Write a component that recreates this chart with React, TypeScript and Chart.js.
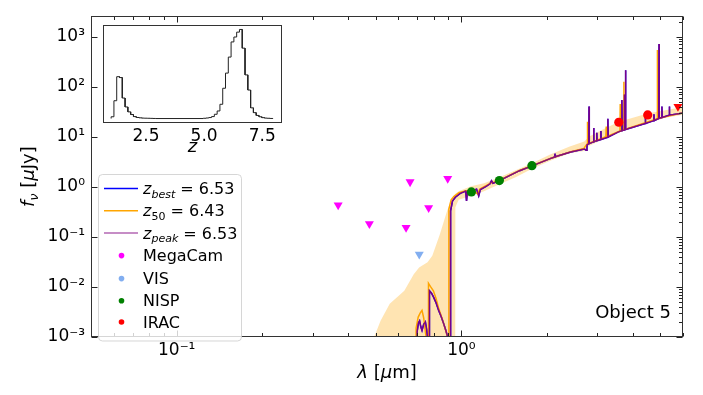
import React, { useEffect, useRef } from 'react';
import { Chart, registerables } from 'chart.js';

Chart.register(...registerables);

const FONT = "'DejaVu Sans', sans-serif";

// ---------------- photometry (lambda in micron, flux in microJy) ----------------
const megacamLambda = [0.369, 0.475, 0.639, 0.66, 0.767, 0.895];
const megacamFlux = [0.43, 0.183, 0.153, 1.25, 0.38, 1.46];
const visLambda = [0.711];
const visFlux = [0.045];
const nispLambda = [1.084, 1.359, 1.768];
const nispFlux = [0.79, 1.33, 2.65];
const iracLambda = [3.57, 4.51];
const iracFlux = [19.5, 27.3];
const iracLimitLambda = [5.76];
const iracLimitFlux = [39.9];

// ---------------- model spectra [lambda, f_nu] ----------------
const zBestSpectrum: [number, number][] = [
  [0.5, 1e-6], [0.697, 1e-6], [0.699, 1.3e-3], [0.706, 1.9e-3], [0.713, 2.1e-3], [0.72, 1.6e-3],
  [0.727, 1.35e-3], [0.737, 1.8e-3], [0.747, 2.0e-3], [0.755, 1.4e-3], [0.762, 8e-4], [0.77, 8e-4],
  [0.772, 8.4e-3], [0.785, 7.5e-3], [0.799, 6.2e-3], [0.815, 4.8e-3], [0.832, 3.4e-3], [0.85, 2.5e-3],
  [0.866, 1.85e-3], [0.88, 1.4e-3], [0.895, 1.0e-3], [0.9, 1e-6], [0.9155, 1e-6], [0.916, 0.33],
  [0.93, 0.52], [0.952, 0.62], [0.99, 0.74], [1.035, 0.82], [1.042, 0.52], [1.05, 0.8], [1.1, 0.85],
  [1.13, 0.9], [1.15, 0.66], [1.165, 0.88], [1.22, 1.02], [1.26, 1.15], [1.275, 1.32], [1.29, 1.18],
  [1.36, 1.33], [1.45, 1.6], [1.6, 2.1], [1.77, 2.62], [2.06, 3.7], [2.125, 3.95], [2.13, 4.6],
  [2.135, 3.98], [2.42, 4.98], [2.7, 5.7], [2.74, 5.4], [2.76, 6.9], [2.8, 7.3], [2.806, 40],
  [2.812, 7.3], [2.905, 7.9], [2.913, 15], [2.921, 8.0], [2.982, 8.3], [2.988, 12], [2.994, 8.3],
  [3.082, 8.8], [3.089, 13], [3.096, 8.8], [3.26, 9.8], [3.268, 23], [3.276, 9.9], [3.56, 12.5],
  [3.652, 13.2], [3.66, 54], [3.668, 13.3], [3.727, 13.6], [3.734, 70], [3.741, 13.7], [3.763, 13.9],
  [3.77, 213], [3.777, 14.0], [4.0, 15.5], [4.416, 18.3], [4.425, 26], [4.434, 18.4], [4.735, 21],
  [4.744, 28], [4.753, 21.1], [4.932, 23.2], [4.942, 710], [4.952, 23.4], [5.05, 24.2], [5.06, 40],
  [5.07, 24.3], [5.362, 27], [5.373, 40], [5.384, 27], [6.05, 30],
];
// z_peak has the same redshift as z_best (6.53): same model
const zPeakSpectrum = zBestSpectrum;
const z50Spectrum: [number, number][] = [
  [0.5, 1e-6], [0.69, 1e-6], [0.693, 1.5e-3], [0.705, 2.5e-3], [0.716, 3.0e-3], [0.727, 3.4e-3],
  [0.737, 2.4e-3], [0.748, 1.2e-3], [0.757, 8e-4], [0.764, 8e-4], [0.766, 0.0118], [0.78, 0.01],
  [0.797, 8.4e-3], [0.815, 5.8e-3], [0.83, 3.9e-3], [0.85, 2.6e-3], [0.866, 1.85e-3], [0.882, 1.3e-3],
  [0.895, 1.0e-3], [0.898, 1e-6], [0.903, 1e-6], [0.9036, 0.36], [0.92, 0.55], [0.94, 0.64],
  [0.98, 0.76], [1.03, 0.83], [1.1, 0.86], [1.14, 0.72], [1.16, 0.9], [1.26, 1.17], [1.36, 1.34],
  [1.45, 1.62], [1.6, 2.12], [1.77, 2.64], [2.06, 3.72], [2.42, 5.0], [2.69, 5.8], [2.72, 6.4],
  [2.763, 7.2], [2.769, 20], [2.775, 7.2], [3.215, 10], [3.225, 16], [3.235, 10], [3.604, 13],
  [3.612, 45], [3.62, 13], [3.715, 13.8], [3.72, 125], [3.725, 13.8], [4.87, 23], [4.876, 540],
  [4.882, 23], [6.05, 30.5],
];

// ---------------- uncertainty band ----------------
const bandLambda = [0.49, 0.52, 0.56, 0.63, 0.68, 0.71, 0.76, 0.79, 0.84, 0.89, 0.927, 0.95, 0.952, 0.978,
  1.08, 1.2, 1.36, 1.55, 1.77, 2.05, 2.4, 2.7, 2.8, 3.1, 3.57, 4.0, 4.5, 5.2, 6.1];
const bandHigh = [0.0009, 0.0021, 0.0046, 0.0084, 0.018, 0.0245, 0.031, 0.042, 0.113, 0.33, 0.6, 0.72, 0.73,
  0.82, 1.03, 1.18, 1.55, 2.15, 2.95, 4.4, 6.4, 8.0, 10.0, 13.5, 20.0, 24.0, 29.0, 34.0, 40.0];
const bandLow = [1e-6, 1e-6, 1e-6, 1e-6, 1e-6, 1e-6, 1e-6, 1e-6, 1e-6, 1e-6, 1e-6, 1e-6, 0.39, 0.55,
  0.66, 0.82, 1.12, 1.55, 2.3, 3.3, 4.7, 5.2, 6.5, 8.5, 12.5, 15.5, 18.5, 24.0, 28.0];

// ---------------- P(z) histogram (inset) ----------------
const pzEdgesLow = [1.0, 1.12, 1.24, 1.36, 1.48, 1.6, 1.72, 1.84, 1.96, 2.08, 2.2, 2.32, 2.44, 2.56, 2.68, 2.8, 2.92];
const pzCountsLow = [0.02, 0.2, 0.47, 0.46, 0.23, 0.13, 0.075, 0.045, 0.022, 0.012, 0.008, 0.005, 0.004, 0.003, 0.002, 0.001];
const pzEdgesHigh = [4.96, 5.08, 5.2, 5.32, 5.44, 5.56, 5.68, 5.8, 5.92, 6.04, 6.16, 6.28, 6.4, 6.52, 6.64,
  6.76, 6.88, 7.0, 7.12, 7.24, 7.36, 7.48, 7.6, 7.72, 7.84, 7.96];
const pzCountsHigh = [0.003, 0.006, 0.011, 0.022, 0.048, 0.085, 0.16, 0.34, 0.51, 0.69, 0.86, 0.915, 0.97, 1.0,
  0.79, 0.49, 0.32, 0.12, 0.066, 0.035, 0.02, 0.01, 0.005, 0.003, 0.001];

// ---------------- ticks & labels ----------------
const xTickValues = [0.1, 1];
const xTickLabels = ['10\u207B\u00B9', '10\u2070'];
const yTickValues = [1e-3, 1e-2, 1e-1, 1, 10, 100, 1000];
const yTickLabels = ['10\u207B\u00B3', '10\u207B\u00B2', '10\u207B\u00B9', '10\u2070', '10\u00B9', '10\u00B2', '10\u00B3'];
const insetTickValues = [2.5, 5, 7.5];
const insetTickLabels = ['2.5', '5.0', '7.5'];

const zBestValue = '6.53';
const z50Value = '6.43';
const zPeakValue = '6.53';
const objectLabel = 'Object 5';

const COL_BEST = '#0000ff';
const COL_50 = '#ffa500';
const COL_PEAK = 'rgba(128,0,128,0.92)';
const COL_PEAK_LEG = 'rgba(128,0,128,0.6)';
const COL_MEGACAM = '#ff00ff';
const COL_VIS = '#82aef0';
const COL_NISP = '#008000';
const COL_IRAC = '#ff0000';

const pts = (xs: number[], ys: number[]) => xs.map((x, i) => ({ x, y: ys[i] }));
const pairs = (p: [number, number][]) => p.map(([x, y]) => ({ x, y }));

function stepOutline(edges: number[], counts: number[]) {
  const out: { x: number; y: number }[] = [{ x: edges[0], y: 0 }];
  counts.forEach((c, i) => {
    out.push({ x: edges[i], y: c });
    out.push({ x: edges[i + 1], y: c });
  });
  out.push({ x: edges[edges.length - 1], y: 0 });
  return out;
}

type Part = { t: string; it?: boolean; sub?: boolean };
function drawMath(ctx: CanvasRenderingContext2D, parts: Part[], x: number, yBase: number, size: number, align: 'left' | 'center' | 'right' = 'left') {
  const fontFor = (p: Part) => `${p.it ? 'italic ' : ''}${p.sub ? Math.round(size * 0.7) : size}px ${FONT}`;
  let w = 0;
  parts.forEach((p) => { ctx.font = fontFor(p); w += ctx.measureText(p.t).width; });
  let cx = align === 'left' ? x : align === 'center' ? x - w / 2 : x - w;
  ctx.textAlign = 'left';
  ctx.textBaseline = 'alphabetic';
  parts.forEach((p) => {
    ctx.font = fontFor(p);
    ctx.fillText(p.t, cx, yBase + (p.sub ? size * 0.22 : 0));
    cx += ctx.measureText(p.t).width;
  });
}

const mainDecor = {
  id: 'mainDecor',
  afterDatasetsDraw(chart: any) {
    const { ctx, chartArea: a, scales } = chart;
    const xs = scales.x, ys = scales.y;
    ctx.save();
    ctx.strokeStyle = '#222';
    ctx.lineWidth = 1;
    const L = Math.round(a.left) + 0.5, R = Math.round(a.right) - 0.5;
    const T = Math.round(a.top) + 0.5, B = Math.round(a.bottom) - 0.5;
    const seg = (x0: number, y0: number, x1: number, y1: number) => {
      ctx.beginPath(); ctx.moveTo(x0, y0); ctx.lineTo(x1, y1); ctx.stroke();
    };
    for (let e = -2; e <= 0; e++) {
      for (let m = 1; m <= 9; m++) {
        const v = m * Math.pow(10, e);
        if (v < 0.05 || v > 6) continue;
        const px = Math.round(xs.getPixelForValue(v)) + 0.5;
        const len = m === 1 ? 6 : 3.5;
        seg(px, B, px, B - len);
        seg(px, T, px, T + len);
      }
    }
    for (let e = -3; e <= 3; e++) {
      for (let m = 1; m <= 9; m++) {
        const v = m * Math.pow(10, e);
        if (v > 2560) continue;
        const py = Math.round(ys.getPixelForValue(v)) + 0.5;
        if (m === 1) {
          seg(L, py, L + 6, py);
          seg(R, py, R - 6, py);
        } else {
          seg(R, py, R - 3.5, py);
        }
      }
    }
    ctx.strokeStyle = '#333';
    ctx.strokeRect(L, T, R - L, B - T);
    ctx.restore();
  },
  afterDraw(chart: any) {
    const { ctx, chartArea: a } = chart;
    ctx.save();
    ctx.fillStyle = '#000';
    drawMath(ctx, [{ t: '\u03BB', it: true }, { t: ' [' }, { t: '\u03BC', it: true }, { t: 'm]' }], (a.left + a.right) / 2, 378, 18, 'center');
    ctx.save();
    ctx.translate(29, (a.top + a.bottom) / 2);
    ctx.rotate(-Math.PI / 2);
    drawMath(ctx, [{ t: 'f', it: true }, { t: '\u03BD', it: true, sub: true }, { t: ' [' }, { t: '\u03BC', it: true }, { t: 'Jy]' }], 0, 5, 18, 'center');
    ctx.restore();
    ctx.font = `18px ${FONT}`;
    ctx.textAlign = 'right';
    ctx.textBaseline = 'alphabetic';
    ctx.fillText(objectLabel, 671, 318);

    const lx0 = 98.5, ly0 = 174.5, lx1 = 241.5, ly1 = 341;
    ctx.beginPath();
    (ctx as any).roundRect(lx0, ly0, lx1 - lx0, ly1 - ly0, 4);
    ctx.fillStyle = 'rgba(255,255,255,0.8)';
    ctx.fill();
    ctx.strokeStyle = 'rgba(204,204,204,0.8)';
    ctx.lineWidth = 1;
    ctx.stroke();
    const rows = [188.5, 210.8, 233.1, 255.6, 278.6, 300.8, 322.0];
    const lineRows: [string, Part[]][] = [
      [COL_BEST, [{ t: 'z', it: true }, { t: 'best', it: true, sub: true }, { t: ' = ' + zBestValue }]],
      [COL_50, [{ t: 'z', it: true }, { t: '50', sub: true }, { t: ' = ' + z50Value }]],
      [COL_PEAK_LEG, [{ t: 'z', it: true }, { t: 'peak', it: true, sub: true }, { t: ' = ' + zPeakValue }]],
    ];
    lineRows.forEach(([c, parts], i) => {
      ctx.strokeStyle = c;
      ctx.lineWidth = 1.5;
      ctx.beginPath(); ctx.moveTo(104, rows[i]); ctx.lineTo(138, rows[i]); ctx.stroke();
      ctx.fillStyle = '#000';
      drawMath(ctx, parts, 143, rows[i] + 5.5, 16);
    });
    const markerRows: [string, string][] = [[COL_MEGACAM, 'MegaCam'], [COL_VIS, 'VIS'], [COL_NISP, 'NISP'], [COL_IRAC, 'IRAC']];
    markerRows.forEach(([c, label], j) => {
      const yc = rows[3 + j];
      ctx.fillStyle = c;
      ctx.beginPath(); ctx.arc(121.5, yc, 2.8, 0, Math.PI * 2); ctx.fill();
      ctx.fillStyle = '#000';
      ctx.font = `16px ${FONT}`;
      ctx.textAlign = 'left';
      ctx.textBaseline = 'alphabetic';
      ctx.fillText(label, 143, yc + 5.5);
    });
    ctx.restore();
  },
};

const insetDecor = {
  id: 'insetDecor',
  beforeDatasetsDraw(chart: any) {
    const { ctx, chartArea: a } = chart;
    ctx.save();
    ctx.fillStyle = '#fff';
    ctx.fillRect(a.left, a.top, a.right - a.left, a.bottom - a.top);
    ctx.restore();
  },
  afterDatasetsDraw(chart: any) {
    const { ctx, chartArea: a } = chart;
    ctx.save();
    ctx.strokeStyle = '#333';
    ctx.lineWidth = 1;
    ctx.strokeRect(Math.round(a.left) + 0.5, Math.round(a.top) + 0.5, Math.round(a.right - a.left) - 1, Math.round(a.bottom - a.top) - 1);
    ctx.restore();
  },
};

export default function App() {
  const mainRef = useRef<HTMLCanvasElement>(null);
  const insetRef = useRef<HTMLCanvasElement>(null);

  useEffect(() => {
    const scatterDs = (label: string, xs: number[], ys: number[], color: string, style: string, rot: number, r: number) => ({
      label,
      data: pts(xs, ys),
      showLine: false,
      pointStyle: style,
      pointRotation: rot,
      pointRadius: r,
      pointBackgroundColor: color,
      pointBorderColor: color,
      pointBorderWidth: 0,
      borderColor: color,
      backgroundColor: color,
      order: 0,
    });
    const lineDs = (label: string, data: any[], color: string, order: number, width = 1.5) => ({
      label,
      data,
      borderColor: color,
      borderWidth: width,
      pointRadius: 0,
      tension: 0,
      fill: false,
      order,
    });

    const main = new Chart(mainRef.current!, {
      type: 'line',
      data: {
        datasets: [
          scatterDs('MegaCam', megacamLambda, megacamFlux, COL_MEGACAM, 'triangle', 180, 5.2),
          scatterDs('VIS', visLambda, visFlux, COL_VIS, 'triangle', 180, 5.2),
          scatterDs('NISP', nispLambda, nispFlux, COL_NISP, 'circle', 0, 4.6),
          scatterDs('IRAC', iracLambda, iracFlux, COL_IRAC, 'circle', 0, 4.6),
          scatterDs('IRAC limit', iracLimitLambda, iracLimitFlux, COL_IRAC, 'triangle', 180, 5.2),
          lineDs('z_peak', pairs(zPeakSpectrum), COL_PEAK, 1),
          lineDs('z_50', pairs(z50Spectrum), COL_50, 2),
          lineDs('z_best', pairs(zBestSpectrum), COL_BEST, 3),
          { ...lineDs('band low', pts(bandLambda, bandLow), 'rgba(0,0,0,0)', 5, 0) },
          { ...lineDs('band high', pts(bandLambda, bandHigh), 'rgba(0,0,0,0)', 4, 0), fill: '-1', backgroundColor: 'rgba(255,165,0,0.3)' },
        ] as any,
      },
      options: {
        responsive: false,
        animation: false,
        devicePixelRatio: 1,
        events: [],
        layout: { padding: { left: 0, right: 20, top: 14, bottom: 0 } },
        plugins: { legend: { display: false }, tooltip: { enabled: false } },
        scales: {
          x: {
            type: 'logarithmic',
            min: 0.05,
            max: 6.0,
            grid: { display: false, drawTicks: false },
            border: { display: false },
            afterBuildTicks: (s: any) => { s.ticks = xTickValues.map((v) => ({ value: v })); },
            afterFit: (s: any) => { s.height = 58; },
            ticks: {
              autoSkip: false,
              maxRotation: 0,
              padding: 3,
              color: '#000',
              font: { family: FONT, size: 17 },
              callback: (_v: any, i: number) => xTickLabels[i],
            },
          },
          y: {
            type: 'logarithmic',
            min: 1e-3,
            max: 2560,
            grid: { display: false, drawTicks: false },
            border: { display: false },
            afterBuildTicks: (s: any) => { s.ticks = yTickValues.map((v) => ({ value: v })); },
            afterFit: (s: any) => { s.width = 91; },
            ticks: {
              autoSkip: false,
              padding: 6,
              color: '#000',
              font: { family: FONT, size: 17 },
              callback: (_v: any, i: number) => yTickLabels[i],
            },
          },
        },
      } as any,
      plugins: [mainDecor],
    });

    const histData = [...stepOutline(pzEdgesLow, pzCountsLow), ...stepOutline(pzEdgesHigh, pzCountsHigh)];
    const inset = new Chart(insetRef.current!, {
      type: 'line',
      data: {
        datasets: [{
          data: histData,
          borderColor: '#222',
          borderWidth: 1,
          pointRadius: 0,
          tension: 0,
          fill: false,
        }] as any,
      },
      options: {
        responsive: false,
        animation: false,
        devicePixelRatio: 1,
        events: [],
        layout: { padding: { left: 10, right: 11, top: 7, bottom: 0 } },
        plugins: { legend: { display: false }, tooltip: { enabled: false } },
        scales: {
          x: {
            type: 'linear',
            min: 0.65,
            max: 8.35,
            grid: { display: false, drawTicks: false },
            border: { display: false },
            afterBuildTicks: (s: any) => { s.ticks = insetTickValues.map((v) => ({ value: v })); },
            afterFit: (s: any) => { s.height = 35; },
            ticks: {
              autoSkip: false,
              maxRotation: 0,
              padding: 3,
              color: '#000',
              font: { family: FONT, size: 17 },
              callback: (_v: any, i: number) => insetTickLabels[i],
            },
            title: {
              display: true,
              text: 'z',
              color: '#000',
              font: { family: FONT, size: 18, style: 'italic' },
              padding: { top: 0, bottom: 0 },
            },
          },
          y: { type: 'linear', min: -0.05, max: 1.05, display: false },
        },
      } as any,
      plugins: [insetDecor],
    });

    return () => { main.destroy(); inset.destroy(); };
  }, []);

  return (
    <div style={{ position: 'fixed', left: 0, top: 0, width: 703, height: 395, background: '#fff' }}>
      <canvas ref={mainRef} width={703} height={395} style={{ position: 'absolute', left: 0, top: 0, width: 703, height: 395 }} />
      <canvas ref={insetRef} width={200} height={140} style={{ position: 'absolute', left: 93, top: 18, width: 200, height: 140 }} />
    </div>
  );
}
